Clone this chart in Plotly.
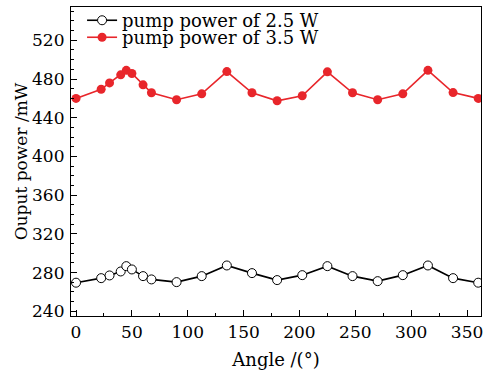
import plotly.graph_objects as go

angles = [0, 22.5, 30, 40, 45, 50, 60, 67.5, 90, 112.5, 135, 157.5, 180,
          202.5, 225, 247.5, 270, 292.5, 315, 337.5, 360]
power_25 = [269.6, 274.3, 277.1, 281.2, 286.7, 283.3, 276.4, 273.0, 270.2, 276.4,
            287.4, 279.5, 272.3, 277.4, 286.7, 276.4, 271.2, 277.4, 287.4, 274.3, 269.6]
power_35 = [460.0, 469.4, 476.0, 484.3, 489.0, 485.7, 474.0, 465.8, 458.6, 464.7,
            487.7, 465.8, 457.5, 462.7, 487.4, 465.8, 458.6, 464.7, 489.0, 466.0, 460.0]
series_names = ["pump power of 2.5 W", "pump power of 3.5 W"]
x_title = "Angle /(°)"
y_title = "Ouput power /mW"

FONT = "DejaVu Serif"
RED = "#e8262b"

fig = go.Figure()
fig.add_trace(go.Scatter(
    x=angles, y=power_25, name=series_names[0], mode="lines+markers",
    line=dict(color="black", width=1.6),
    marker=dict(symbol="circle", size=9, color="white",
                line=dict(color="black", width=1)),
    legend="legend",
))
fig.add_trace(go.Scatter(
    x=angles, y=power_35, name=series_names[1], mode="lines+markers",
    line=dict(color=RED, width=1.6),
    marker=dict(symbol="circle", size=9, color=RED,
                line=dict(color=RED, width=0)),
    legend="legend2",
))

axis_common = dict(
    showline=True, linecolor="black", linewidth=1.2, mirror=True,
    ticks="inside", ticklen=6, tickwidth=1, tickcolor="black",
    showgrid=False, zeroline=False,
    tickfont=dict(family=FONT, size=17, color="black"),
    ticklabeloverflow="allow",
)

fig.update_xaxes(
    range=[-4.5, 362.5], tickmode="linear", tick0=0, dtick=50,
    minor=dict(ticks="inside", ticklen=3, tickwidth=1, tickcolor="black",
               dtick=25, tick0=0, showgrid=False),
    ticklabelstandoff=0,
    title=dict(text=x_title, font=dict(family=FONT, size=18, color="black"),
               standoff=12),
    **axis_common,
)
fig.update_yaxes(
    range=[235.2, 554.4], tickmode="linear", tick0=240, dtick=40,
    minor=dict(ticks="inside", ticklen=3, tickwidth=1, tickcolor="black",
               dtick=10, tick0=240, showgrid=False),
    ticklabelstandoff=2,
    title=dict(text=y_title, font=dict(family=FONT, size=17, color="black"),
               standoff=0),
    **axis_common,
)

legend_common = dict(
    xanchor="left", yanchor="top",
    bgcolor="rgba(0,0,0,0)", borderwidth=0,
    font=dict(family=FONT, size=18, color="black"),
    itemwidth=30,
)

fig.update_layout(
    width=485, height=373,
    margin=dict(l=71, r=2, t=6, b=57),
    paper_bgcolor="white", plot_bgcolor="white",
    showlegend=True,
    legend=dict(x=0.027, y=1.016, **legend_common),
    legend2=dict(x=0.027, y=0.961, **legend_common),
)

fig.write_html("out.html", config={"displayModeBar": False},
               post_script="document.body.style.margin='0';document.body.style.overflow='hidden';")
